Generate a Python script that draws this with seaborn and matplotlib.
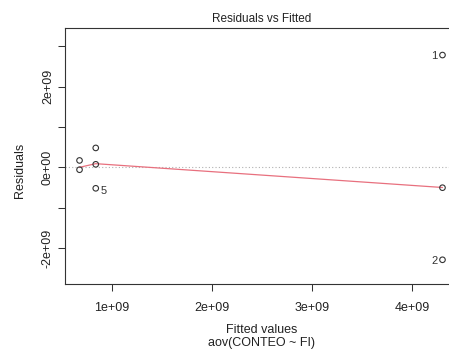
import matplotlib
matplotlib.use("Agg")
import matplotlib.pyplot as plt
import seaborn as sns
import pandas as pd

# Fitted values and residuals of the one-way ANOVA model aov(CONTEO ~ FI)
fitted = [0.676e9, 0.676e9, 0.838e9, 0.838e9, 0.838e9, 4.30e9, 4.30e9, 4.30e9]
residuals = [0.17e9, -0.06e9, 0.48e9, 0.074e9, -0.52e9, 2.78e9, -2.29e9, -0.505e9]
obs_labels = ["", "", "", "", "5", "1", "2", ""]

# Smoothed trend of residuals across fitted values
smooth_x = [0.676e9, 0.838e9, 4.30e9]
smooth_y = [0.0, 0.09e9, -0.5e9]

x_ticks = [1e9, 2e9, 3e9, 4e9]
x_tick_labels = ["1e+09", "2e+09", "3e+09", "4e+09"]
y_ticks = [-2e9, -1e9, 0, 1e9, 2e9, 3e9]
y_tick_labels = ["-2e+09", "", "0e+00", "", "2e+09", ""]

df = pd.DataFrame({"fitted": fitted, "resid": residuals, "label": obs_labels})
sm = pd.DataFrame({"x": smooth_x, "y": smooth_y})

sns.set_style("white")
plt.rcParams["font.family"] = ["Liberation Sans", "DejaVu Sans"]

fig = plt.figure(figsize=(4.49, 3.52), dpi=100)
ax = fig.add_axes([65 / 449, 68 / 352, 392 / 449, 256 / 352])

ax.axhline(0, color="#b0b0b0", lw=0.8, ls=(0, (1, 2)), zorder=1)
sns.lineplot(data=sm, x="x", y="y", ax=ax, color="#e8707e", lw=0.9, zorder=2)
sns.scatterplot(data=df, x="fitted", y="resid", ax=ax, marker="o", s=16,
                facecolors="none", edgecolor="#333333", linewidth=0.8, zorder=3)

mid = (0.531e9 + 4.445e9) / 2
for fx, ry, lab in zip(fitted, residuals, obs_labels):
    if not lab:
        continue
    if fx > mid:
        ax.annotate(lab, (fx, ry), xytext=(-3.5, -1), textcoords="offset points",
                    ha="right", va="center", fontsize=8, color="#333333")
    else:
        ax.annotate(lab, (fx, ry), xytext=(3.5, -2), textcoords="offset points",
                    ha="left", va="center", fontsize=8, color="#333333")

ax.set_xlim(0.531e9, 4.445e9)
ax.set_ylim(-2.89e9, 3.45e9)
ax.set_xticks(x_ticks, x_tick_labels)
ax.set_yticks(y_ticks, y_tick_labels)
for t in ax.get_yticklabels():
    t.set_rotation(90)
    t.set_va("center")
ax.tick_params(axis="both", direction="out", length=5, width=0.75, colors="#333333",
               labelsize=9, labelcolor="#222222", bottom=True, left=True)
ax.tick_params(axis="x", pad=8)
ax.tick_params(axis="y", pad=3)
for sp in ax.spines.values():
    sp.set_color("#333333")
    sp.set_linewidth(0.8)

ax.set_xlabel("")
ax.set_ylabel("")
fig.text(20 / 449, 1 - 170 / 352, "Residuals", rotation=90, ha="center", va="center",
         fontsize=9, color="#222222")
fig.text(262 / 449, 1 - 330 / 352, "Fitted values", ha="center", va="center",
         fontsize=9, color="#222222")
fig.text(262 / 449, 1 - 343 / 352, "aov(CONTEO ~ FI)", ha="center", va="center",
         fontsize=9, color="#222222")
fig.text(262 / 449, 1 - 19 / 352, "Residuals vs Fitted", ha="center", va="center",
         fontsize=8.5, color="#222222")

fig.savefig("out.png", dpi=100)
